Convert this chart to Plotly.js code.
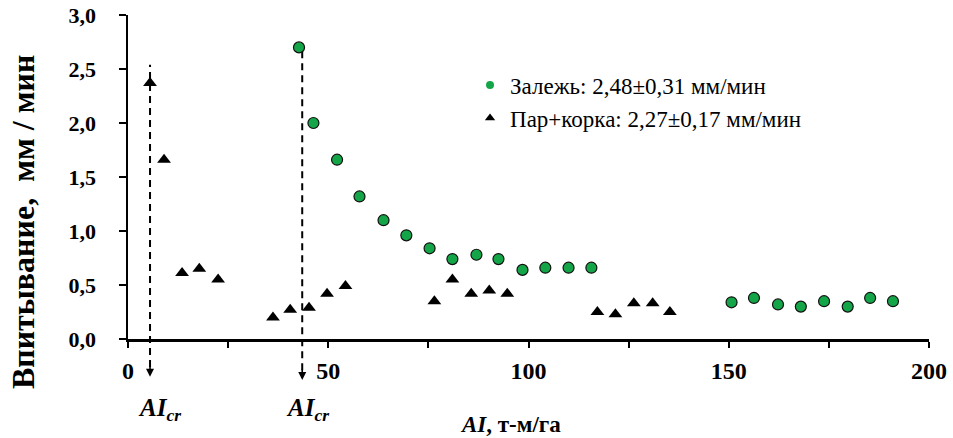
<!DOCTYPE html>
<html>
<head>
<meta charset="utf-8">
<script src="https://cdn.plot.ly/plotly-3.0.1.min.js"></script>
<style>html,body{margin:0;padding:0;background:#fff;}#chart{width:953px;height:438px;}</style>
</head>
<body>
<div id="chart"></div>
<script>
// Залежь (fallow) – green circles
const fallowX = [42.7, 46.3, 52.2, 57.8, 63.8, 69.5, 75.3, 81, 87, 92.5, 98.5, 104.2, 110, 115.7, 150.7, 156.3, 162.3, 168, 173.8, 179.7, 185.3, 191];
const fallowY = [2.70, 2.00, 1.66, 1.32, 1.10, 0.96, 0.84, 0.74, 0.78, 0.74, 0.64, 0.66, 0.66, 0.66, 0.34, 0.38, 0.32, 0.30, 0.35, 0.30, 0.38, 0.35];
// Пар+корка – black triangles
const crustX = [5.5, 9, 13.5, 17.8, 22.5, 36.2, 40.5, 45.2, 49.7, 54.3, 76.5, 81, 85.7, 90.2, 94.7, 117.2, 121.7, 126.3, 131, 135.3];
const crustY = [2.37, 1.66, 0.61, 0.65, 0.55, 0.20, 0.27, 0.29, 0.42, 0.49, 0.35, 0.55, 0.42, 0.45, 0.42, 0.25, 0.23, 0.33, 0.33, 0.25];
// critical AI markers (dashed lines with arrows below the axis)
const aiCrX = [5.5, 43.5];
const aiCrTop = [2.54, 2.70];
const aiCrArrowTip = [-0.35, -0.38];
const legendNames = ['Залежь: 2,48±0,31 мм/мин', 'Пар+корка: 2,27±0,17 мм/мин'];
const yTitle = 'Впитывание,  мм / мин';
const xTitle = '<i>AI</i>, т-м/га';
const crLabel = '<i>AI<sub>cr</sub></i>';

const serif = 'Liberation Serif, Times New Roman, serif';
const green = '#14a548';
const yMax = 3;

const traces = [
  {x: fallowX, y: fallowY, type: 'scatter', mode: 'markers', showlegend: false, cliponaxis: false,
   marker: {symbol: 'circle', size: 11, color: green, line: {color: '#111', width: 1.2}}},
  {x: crustX, y: crustY, type: 'scatter', mode: 'markers', showlegend: false, cliponaxis: false,
   marker: {symbol: 'triangle-up', size: 12, color: '#000'}},
  {x: [null], y: [null], type: 'scatter', mode: 'markers', name: legendNames[0],
   marker: {symbol: 'circle', size: 8, color: green}},
  {x: [null], y: [null], type: 'scatter', mode: 'markers', name: legendNames[1],
   marker: {symbol: 'triangle-up', size: 9, color: '#000'}}
];

const shapes = aiCrX.map((x, i) => ({
  type: 'line', xref: 'x', yref: 'paper', x0: x, x1: x, y0: aiCrArrowTip[i] / yMax + 0.03, y1: aiCrTop[i] / yMax,
  line: {color: '#000', width: 2, dash: '7px,5px'}, layer: 'below'
}));

const annotations = [];
aiCrX.forEach((x, i) => {
  annotations.push({x: x, y: aiCrArrowTip[i] / yMax, xref: 'x', yref: 'paper', text: '', showarrow: true,
    ax: 0, ay: -12, arrowhead: 2, arrowsize: 1, arrowwidth: 1.6, arrowcolor: '#000'});
});
const crLabelX = [7.75, 44.7];
crLabelX.forEach(x => {
  annotations.push({x: x, y: -0.219, xref: 'x', yref: 'paper', text: '<b>' + crLabel + '</b>', showarrow: false,
    xanchor: 'center', yanchor: 'middle', font: {family: serif, size: 25, color: '#000'}});
});
annotations.push({x: 95.5, y: -0.265, xref: 'x', yref: 'paper', text: '<b>' + xTitle + '</b>', showarrow: false,
  xanchor: 'center', yanchor: 'middle', font: {family: serif, size: 23, color: '#000'}});
annotations.push({x: -0.131, y: 0.361, xref: 'paper', yref: 'paper', text: '<b>' + yTitle + '</b>', showarrow: false,
  textangle: -90, xanchor: 'center', yanchor: 'middle', font: {family: serif, size: 32, color: '#000'}});

const layout = {
  width: 953, height: 438,
  margin: {l: 128, r: 24, t: 15, b: 99, pad: 0},
  paper_bgcolor: '#fff', plot_bgcolor: '#fff',
  separators: ',.',
  showlegend: true,
  legend: {x: 0.427, y: 0.85, xanchor: 'left', yanchor: 'top', bgcolor: 'rgba(0,0,0,0)',
    font: {family: serif, size: 23, color: '#000'}, tracegroupgap: 0},
  xaxis: {range: [0, 200], tick0: 0, dtick: 50, showgrid: false, zeroline: false,
    showline: true, linecolor: '#000', linewidth: 2.5,
    ticks: 'outside', ticklen: 6, tickwidth: 2, tickcolor: '#000',
    minor: {dtick: 25, ticks: 'outside', ticklen: 6, tickwidth: 2, tickcolor: '#000', showgrid: false},
    ticklabelstandoff: 3,
    tickfont: {family: serif, size: 24, color: '#000', weight: 'bold'}},
  yaxis: {range: [0, yMax], tick0: 0, dtick: 0.5, tickformat: '.1f', showgrid: false, zeroline: false,
    showline: true, linecolor: '#000', linewidth: 2.5,
    ticks: 'outside', ticklen: 7, tickwidth: 2, tickcolor: '#000',
    ticklabelstandoff: 18,
    tickfont: {family: serif, size: 22, color: '#000', weight: 'bold'}},
  shapes: shapes,
  annotations: annotations
};

Plotly.newPlot('chart', traces, layout, {displayModeBar: false, staticPlot: true});
</script>
</body>
</html>
